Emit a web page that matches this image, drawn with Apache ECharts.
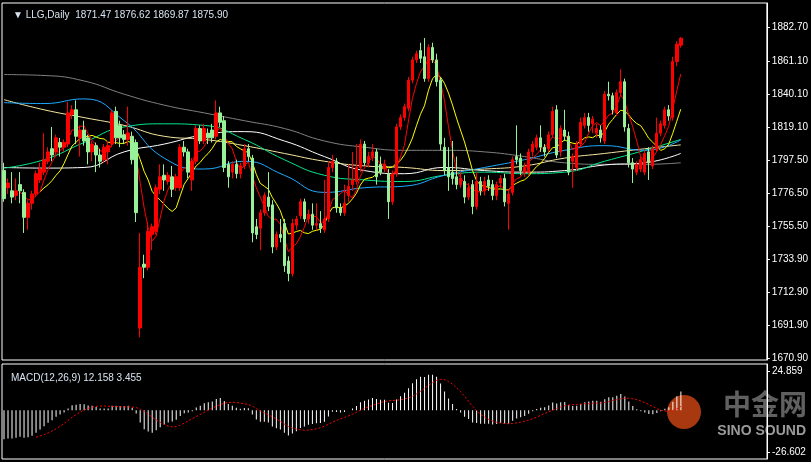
<!DOCTYPE html>
<html>
<head>
<meta charset="utf-8">
<script src="https://cdn.jsdelivr.net/npm/echarts@6/dist/echarts.min.js"></script>
<style>
  html, body { margin: 0; padding: 0; background: #000; }
  #chart { width: 811px; height: 462px; }
</style>
</head>
<body>
<div id="chart"></div>
<script>
// daily bars: [open, close, low, high]
const candles = [
  [1791,1773,1771,1796],[1780,1783,1776,1786],[1778,1774,1770,1790],[1775,1778,1772,1786],[1782,1778,1770,1790],
  [1777,1761,1751,1779],[1761,1770,1753,1772],[1770,1776,1766,1778],[1776,1789,1774,1791],[1785,1792,1783,1796],
  [1790,1798,1788,1815],[1797,1803,1795,1806],[1805,1801,1797,1819],[1803,1812,1800,1814],[1809,1806,1800,1812],
  [1806,1809,1803,1811],[1808,1828,1806,1835],[1827,1830,1824,1833],[1830,1813,1808,1836],[1812,1817,1800,1820],
  [1817,1810,1807,1823],[1812,1803,1795,1814],[1803,1808,1797,1810],[1807,1801,1790,1809],[1801,1797,1793,1805],
  [1798,1806,1796,1808],[1803,1807,1795,1810],[1808,1828,1806,1830],[1829,1812,1808,1832],[1820,1812,1806,1823],
  [1814,1811,1808,1817],[1811,1815,1807,1832],[1813,1798,1795,1816],[1809,1764,1758,1811],[1690,1729,1684,1751],
  [1731,1729,1722,1737],[1729,1752,1727,1758],[1750,1755,1740,1757],[1752,1780,1750,1782],[1779,1787,1776,1795],
  [1788,1785,1778,1795],[1784,1788,1782,1790],[1787,1779,1774,1794],[1780,1787,1778,1789],[1780,1806,1778,1808],
  [1806,1803,1800,1810],[1803,1790,1786,1805],[1785,1797,1778,1799],[1797,1818,1795,1820],[1818,1810,1808,1820],
  [1810,1818,1808,1821],[1815,1812,1808,1818],[1817,1812,1809,1821],[1813,1828,1811,1836],[1828,1822,1819,1832],
  [1823,1793,1790,1826],[1795,1787,1780,1797],[1790,1795,1786,1797],[1795,1789,1786,1798],[1789,1794,1786,1796],
  [1794,1805,1792,1808],[1805,1800,1797,1808],[1799,1751,1745,1801],[1755,1750,1747,1760],[1754,1764,1740,1766],
  [1764,1775,1762,1777],[1774,1768,1765,1790],[1769,1742,1738,1772],[1742,1750,1740,1752],[1750,1748,1745,1760],
  [1757,1730,1726,1760],[1733,1725,1720,1736],[1725,1757,1723,1760],[1756,1760,1753,1762],[1762,1771,1760,1773],
  [1771,1760,1758,1773],[1760,1763,1757,1766],[1763,1756,1753,1770],[1756,1757,1753,1770],[1757,1754,1751,1765],
  [1753,1760,1751,1785],[1760,1793,1758,1797],[1793,1797,1790,1801],[1797,1767,1764,1799],[1767,1764,1762,1770],
  [1764,1770,1762,1782],[1775,1781,1771,1795],[1782,1785,1778,1803],[1784,1793,1782,1808],[1793,1808,1790,1811],
  [1808,1796,1794,1810],[1796,1800,1793,1803],[1800,1803,1797,1808],[1803,1787,1782,1805],[1795,1790,1788,1800],
  [1792,1795,1790,1798],[1789,1771,1760,1792],[1771,1789,1769,1791],[1789,1819,1787,1821],[1819,1825,1817,1827],
  [1825,1832,1823,1834],[1831,1849,1829,1851],[1849,1862,1847,1864],[1862,1866,1860,1868],[1868,1863,1860,1873],
  [1864,1850,1848,1876],[1850,1870,1848,1872],[1870,1862,1860,1873],[1862,1848,1845,1866],[1849,1808,1804,1851],
  [1806,1791,1788,1812],[1793,1787,1778,1806],[1790,1786,1782,1810],[1787,1782,1779,1800],[1782,1786,1780,1790],
  [1784,1774,1770,1788],[1774,1780,1772,1783],[1782,1768,1763,1785],[1768,1784,1766,1790],[1784,1778,1775,1787],
  [1778,1784,1775,1787],[1785,1781,1778,1788],[1782,1775,1772,1785],[1775,1782,1772,1784],[1783,1786,1780,1788],
  [1786,1771,1768,1789],[1770,1776,1753,1778],[1777,1798,1775,1800],[1800,1798,1795,1820],[1799,1791,1788,1802],
  [1790,1793,1787,1796],[1790,1803,1788,1805],[1803,1808,1800,1810],[1806,1812,1804,1814],[1812,1806,1803,1820],
  [1806,1803,1800,1808],[1805,1814,1803,1816],[1814,1829,1812,1832],[1830,1801,1799,1833],[1803,1818,1800,1820],
  [1817,1813,1810,1830],[1813,1790,1788,1816],[1797,1800,1780,1802],[1793,1808,1791,1810],[1808,1822,1806,1825],
  [1820,1825,1818,1828],[1825,1820,1816,1828],[1821,1824,1815,1826],[1815,1818,1812,1821],[1817,1812,1809,1820],
  [1810,1840,1808,1842],[1840,1839,1836,1848],[1839,1830,1827,1841],[1828,1841,1826,1843],[1841,1848,1839,1856],
  [1848,1819,1816,1850],[1818,1796,1793,1821],[1796,1792,1783,1799],[1790,1795,1788,1797],[1792,1798,1790,1800],
  [1790,1802,1788,1804],[1803,1796,1785,1806],[1794,1805,1792,1807],[1805,1815,1803,1825],[1815,1821,1813,1823],
  [1820,1830,1818,1832],[1830,1826,1823,1833],[1825,1861,1823,1864],[1861,1872,1858,1874],[1871.47,1875.90,1869.87,1876.62]
];

// long moving averages every 10 bars
const maIdx   = [0,10,20,30,40,50,60,70,80,90,100,110,120,130,140,150,160,169];
const maGray  = [1852.6,1852,1848.5,1840,1833,1828,1823,1818,1810,1806,1804,1804,1803,1800,1796,1795,1795,1796];
const maBlue  = [1834.6,1834,1837,1823,1799,1792,1797,1788,1777,1780,1781,1788,1793,1798,1804,1807,1804,1810.7];
const maCream = [1836.5,1830,1825,1820,1813,1811,1807,1802,1797,1794,1793,1791,1792,1794,1799,1802,1805,1807.5];
const maGreen = [1792.6,1798,1809,1819,1821,1820,1811,1798,1788,1785,1784,1788,1790,1789,1790,1797,1804,1811];
const maWhite = [1793,1792.6,1793,1803,1808,1814,1816,1810,1800,1791,1789,1793,1791,1790,1791,1794.6,1796,1802];

// EMA levels carried in from the bars before the visible window
const emaSeed = { fast: 1796, slow: 1814 };

const priceTicks = [1882.70,1861.10,1840.10,1819.10,1797.50,1776.50,1755.50,1733.90,1712.90,1691.90,1670.90];
const macdTicks = [24.859,-26.602];

const SLOTS = 191;
const cats = Array.from({ length: SLOTS }, (_, i) => i);
const closes = candles.map(c => c[1]);

function sma(src, n) {
  return src.map((_, i) => {
    if (i < n - 1) return null;
    let s = 0;
    for (let k = i - n + 1; k <= i; k++) s += src[k];
    return +(s / n).toFixed(2);
  });
}
function ema(src, n, seed) {
  const a = 2 / (n + 1);
  const out = [];
  src.forEach((v, i) => out.push(a * v + (1 - a) * (i === 0 ? seed : out[i - 1])));
  return out;
}
function sparse(idx, vals) {
  const out = new Array(candles.length).fill(null);
  idx.forEach((k, j) => { out[k] = vals[j]; });
  return out;
}

const e12 = ema(closes, 12, emaSeed.fast), e26 = ema(closes, 26, emaSeed.slow);
const macd = closes.map((_, i) => +(e12[i] - e26[i]).toFixed(3));
const signal = sma(macd, 9);

function maSeries(data, color, smooth) {
  return { type: 'line', data, xAxisIndex: 0, yAxisIndex: 0, symbol: 'none', connectNulls: true,
    smooth: smooth || false, lineStyle: { color, width: 1 }, silent: true, z: 3 };
}

const chart = echarts.init(document.getElementById('chart'));
chart.setOption({
  backgroundColor: '#000',
  animation: false,
  textStyle: { fontFamily: 'Liberation Sans, Arial' },
  title: [
    { text: '\u25BC LLG,Daily  1871.47 1876.62 1869.87 1875.90', left: 8, top: 5,
      textStyle: { color: '#d8e4f0', fontSize: 10, fontWeight: 'normal' } },
    { text: 'MACD(12,26,9) 12.158 3.455', left: 6, top: 368,
      textStyle: { color: '#d8e4f0', fontSize: 10, fontWeight: 'normal' } }
  ],
  graphic: [
    { type: 'circle', shape: { cx: 684, cy: 412, r: 17 }, style: { fill: 'rgba(210,70,20,0.8)' } },
    { type: 'text', right: 4, top: 390, style: { text: '中金网', fill: 'rgba(160,160,160,0.6)', font: 'bold 28px "Noto Sans CJK SC"' } },
    { type: 'text', right: 5, top: 424, style: { text: 'SINO SOUND', fill: 'rgba(220,220,220,0.7)', font: 'bold 14px Liberation Sans' } }
  ],
  grid: [
    { left: 2, right: 44, top: 3, height: 357, show: true, borderColor: '#fff', borderWidth: 1 },
    { left: 2, right: 44, top: 364, height: 95, show: true, borderColor: '#fff', borderWidth: 1 }
  ],
  xAxis: [
    { type: 'category', data: cats, gridIndex: 0, boundaryGap: true, show: false },
    { type: 'category', data: cats, gridIndex: 1, boundaryGap: true, show: false }
  ],
  yAxis: [
    { type: 'value', gridIndex: 0, position: 'right', min: 1669.5, max: 1898.5, splitLine: { show: false },
      axisLine: { show: true, lineStyle: { color: '#fff' } },
      axisTick: { show: true, length: 3, lineStyle: { color: '#fff' }, customValues: priceTicks },
      axisLabel: { color: '#fff', fontSize: 10, margin: 5, customValues: priceTicks, formatter: v => v.toFixed(2) } },
    { type: 'value', gridIndex: 1, position: 'right', min: -31, max: 29.5, splitLine: { show: false },
      axisLine: { show: true, lineStyle: { color: '#fff' } },
      axisTick: { show: true, length: 3, lineStyle: { color: '#fff' }, customValues: macdTicks },
      axisLabel: { color: '#fff', fontSize: 10, margin: 5, customValues: macdTicks, formatter: v => v.toFixed(3) } }
  ],
  series: [
    maSeries(sparse(maIdx, maGray), '#808080', true),
    maSeries(sparse(maIdx, maWhite), '#ffffff', true),
    maSeries(sparse(maIdx, maCream), '#f5e6a0', true),
    maSeries(sparse(maIdx, maGreen), '#00e88a', true),
    maSeries(sparse(maIdx, maBlue), '#1eaaff', true),
    {
      type: 'candlestick', data: candles, xAxisIndex: 0, yAxisIndex: 0, barWidth: 3, z: 4,
      itemStyle: { color: '#ff0000', color0: '#98f098', borderColor: '#ff0000', borderColor0: '#98f098', borderWidth: 1 },
      markLine: {
        symbol: 'none', silent: true,
        data: [{ yAxis: 1875.90 }],
        lineStyle: { opacity: 0 },
        label: { position: 'end', formatter: '1875.90', color: '#000', backgroundColor: '#fff',
          fontSize: 10, padding: [1, 3], distance: 3 }
      }
    },
    maSeries(sma(closes, 10), '#ffff00'),
    maSeries(sma(closes, 5), '#ff0000'),
    {
      type: 'bar', data: macd, xAxisIndex: 1, yAxisIndex: 1, barWidth: 1,
      itemStyle: { color: '#ffffff' }, silent: true
    },
    {
      type: 'line', data: signal, xAxisIndex: 1, yAxisIndex: 1, symbol: 'none',
      lineStyle: { color: '#ff0000', width: 1, type: [2, 2] }, silent: true, z: 5
    }
  ]
});
</script>
</body>
</html>
